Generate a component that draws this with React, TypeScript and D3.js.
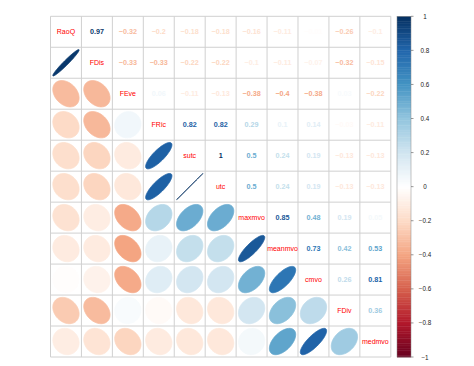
import React from "react";
import * as d3 from "d3";

const variables = ["RaoQ", "FDis", "FEve", "FRic", "sutc", "utc", "maxmvo", "meanmvo", "cmvo", "FDiv", "medmvo"];

const rowRaoQ = [1, 0.97, -0.32, -0.2, -0.18, -0.18, -0.16, -0.11, -0.01, -0.26, -0.1];
const rowFDis = [0.97, 1, -0.33, -0.33, -0.22, -0.22, -0.1, -0.11, -0.07, -0.32, -0.15];
const rowFEve = [-0.32, -0.33, 1, 0.06, -0.11, -0.13, -0.38, -0.4, -0.38, 0.03, -0.22];
const rowFRic = [-0.2, -0.33, 0.06, 1, 0.82, 0.82, 0.29, 0.1, 0.14, -0.03, -0.11];
const rowSutc = [-0.18, -0.22, -0.11, 0.82, 1, 1, 0.5, 0.24, 0.19, -0.13, -0.13];
const rowUtc = [-0.18, -0.22, -0.13, 0.82, 1, 1, 0.5, 0.24, 0.19, -0.13, -0.13];
const rowMaxmvo = [-0.16, -0.1, -0.38, 0.29, 0.5, 0.5, 1, 0.85, 0.48, 0.19, 0.05];
const rowMeanmvo = [-0.11, -0.11, -0.4, 0.1, 0.24, 0.24, 0.85, 1, 0.73, 0.42, 0.53];
const rowCmvo = [-0.01, -0.07, -0.38, 0.14, 0.19, 0.19, 0.48, 0.73, 1, 0.26, 0.81];
const rowFDiv = [-0.26, -0.32, 0.03, -0.03, -0.13, -0.13, 0.19, 0.42, 0.26, 1, 0.36];
const rowMedmvo = [-0.1, -0.15, -0.22, -0.11, -0.13, -0.13, 0.05, 0.53, 0.81, 0.36, 1];

const corr = [rowRaoQ, rowFDis, rowFEve, rowFRic, rowSutc, rowUtc, rowMaxmvo, rowMeanmvo, rowCmvo, rowFDiv, rowMedmvo];

const legendTicks = [1, 0.8, 0.6, 0.4, 0.2, 0, -0.2, -0.4, -0.6, -0.8, -1];

const palette = ["#67001F", "#B2182B", "#D6604D", "#F4A582", "#FDDBC7", "#FFFFFF", "#D1E5F0", "#92C5DE", "#4393C3", "#2166AC", "#053061"];

const W = 474;
const H = 366;
const gridLeft = 50.5;
const gridTop = 16.3;
const gridRight = 390.8;
const gridBottom = 357;
const barX = 397;
const barW = 14;

function fmt(v: number): string {
  const s = String(Math.round(v * 100) / 100);
  return s.replace("-", "\u2212");
}

export default function App() {
  const n = variables.length;
  const xs = d3.scaleBand<number>().domain(d3.range(n)).range([gridLeft, gridRight]);
  const ys = d3.scaleBand<number>().domain(d3.range(n)).range([gridTop, gridBottom]);
  const color = d3
    .scaleLinear<string>()
    .domain(d3.range(palette.length).map((i) => -1 + (2 * i) / (palette.length - 1)))
    .range(palette)
    .interpolate(d3.interpolateRgb);
  const barY = d3.scaleLinear().domain([-1, 1]).range([gridBottom, gridTop]);
  const cw = xs.bandwidth();
  const ch = ys.bandwidth();

  const ellipsePath = (rho: number, cx: number, cy: number) => {
    const d = Math.acos(Math.max(-1, Math.min(1, rho)));
    const pts: [number, number][] = d3.range(0, 99).map((i) => {
      const k = (i / 98) * 2 * Math.PI;
      const x = (0.85 * Math.cos(k + d / 2)) / 2;
      const y = (0.85 * Math.cos(k - d / 2)) / 2;
      return [cx + x * cw, cy - y * ch];
    });
    return d3.line()(pts) + "Z";
  };

  const cells: React.ReactNode[] = [];
  for (let i = 0; i < n; i++) {
    for (let j = 0; j < n; j++) {
      const v = corr[i][j];
      const cx = (xs(j) as number) + cw / 2;
      const cy = (ys(i) as number) + ch / 2;
      if (i === j) {
        cells.push(
          <text key={`l${i}`} x={cx} y={cy} textAnchor="middle" dominantBaseline="central" fontSize={7} fill="#FF0000" fontFamily="Liberation Sans, Arial, sans-serif">
            {variables[i]}
          </text>
        );
      } else if (j > i) {
        cells.push(
          <text key={`n${i}-${j}`} x={cx} y={cy} textAnchor="middle" dominantBaseline="central" fontSize={7.2} fontWeight="bold" fill={color(v)} fontFamily="Liberation Sans, Arial, sans-serif">
            {fmt(v)}
          </text>
        );
      } else {
        const c = color(v);
        cells.push(<path key={`e${i}-${j}`} d={ellipsePath(v, cx, cy)} fill={c} stroke={c} strokeWidth={0.8} />);
      }
    }
  }

  const grid: React.ReactNode[] = [];
  for (let k = 0; k <= n; k++) {
    const x = k === n ? gridRight : (xs(k) as number);
    const y = k === n ? gridBottom : (ys(k) as number);
    grid.push(<line key={`gv${k}`} x1={x} x2={x} y1={gridTop} y2={gridBottom} stroke="#D0D0D0" strokeWidth={1} />);
    grid.push(<line key={`gh${k}`} x1={gridLeft} x2={gridRight} y1={y} y2={y} stroke="#D0D0D0" strokeWidth={1} />);
  }

  const steps = 200;
  const bar = d3.range(steps).map((i) => {
    const v0 = -1 + (2 * i) / steps;
    const v1 = -1 + (2 * (i + 1)) / steps;
    const vm = (v0 + v1) / 2;
    return <rect key={`b${i}`} x={barX} y={barY(v1)} width={barW} height={barY(v0) - barY(v1) + 0.4} fill={color(vm)} />;
  });

  return (
    <svg width={W} height={H} style={{ position: "absolute", left: 0, top: 0, background: "#fff" }}>
      <rect x={0} y={0} width={W} height={H} fill="#fff" />
      {grid}
      {cells}
      {bar}
      <rect x={barX} y={gridTop} width={barW} height={gridBottom - gridTop} fill="none" stroke="#888" strokeWidth={0.5} />
      {legendTicks.map((t) => (
        <g key={`t${t}`}>
          <line x1={barX + barW} x2={barX + barW + 2.5} y1={barY(t)} y2={barY(t)} stroke="#555" strokeWidth={0.6} />
          <text x={425} y={barY(t)} textAnchor="middle" dominantBaseline="central" fontSize={6.3} fill="#222" fontFamily="Liberation Sans, Arial, sans-serif">
            {fmt(t)}
          </text>
        </g>
      ))}
    </svg>
  );
}
